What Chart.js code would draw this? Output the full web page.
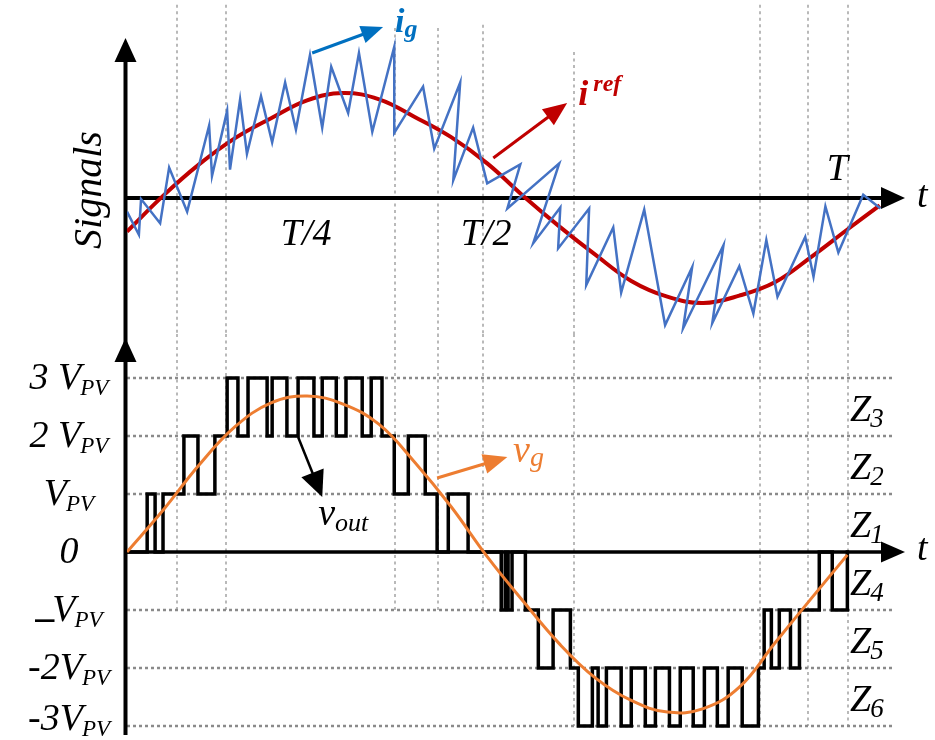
<!DOCTYPE html>
<html>
<head>
<meta charset="utf-8">
<script src="https://cdn.jsdelivr.net/npm/chart.js@4.4.1/dist/chart.umd.min.js"></script>
<style>
  html, body { margin: 0; padding: 0; background: #fff; }
  #wrap { position: relative; width: 935px; height: 740px; overflow: hidden; background: #fff; }
  #wrap canvas { position: absolute; left: 0; }
  #sig { top: 0; }
  #volt { top: 334px; }
</style>
</head>
<body>
<div id="wrap">
  <canvas id="sig" width="935" height="334"></canvas>
  <canvas id="volt" width="935" height="406"></canvas>
</div>
<script>
// Time is in ms; one grid period T = 20 ms.
const sampleT = [0, 1, 2, 3, 4, 5, 6, 7, 8, 9, 10, 11, 12, 13, 14, 15, 16, 17, 18, 19, 20];

// Reference current (per unit)
const iRefT = [0, 1, 2, 3, 4, 5, 6, 7, 8, 9, 10, 11, 12, 13, 14, 15, 16, 17, 18, 19, 20, 20.9];
const iRef  = [-0.32, 0.02, 0.32, 0.57, 0.76, 0.93, 1.00, 0.94, 0.77, 0.58, 0.33, 0.02,
               -0.27, -0.54, -0.79, -0.94, -1.00, -0.93, -0.80, -0.56, -0.30, -0.07];

// Grid current with switching ripple (vertex list, per unit)
const iGridT = [0, 0.33, 0.39, 0.92, 1.17, 1.67, 2.28, 2.36, 2.78, 2.86,
                3.14, 3.33, 3.72, 4.03, 4.39, 4.69, 5.08, 5.42, 5.67, 6.14,
                6.44, 6.81, 7.42, 7.42, 8.22, 8.53, 9.25, 9.06, 9.61, 10.00,
                10.92, 10.56, 12.00, 11.28, 12.03, 11.97, 12.83, 12.75, 13.50, 13.72,
                14.36, 14.94, 15.69, 15.44, 16.56, 16.25, 17.00, 17.39, 17.75, 18.06,
                18.83, 19.06, 19.39, 19.75, 20.44, 20.92];
const iGrid  = [-0.13, -0.35, -0.01, -0.24, 0.29, -0.13, 0.69, 0.21, 0.83, 0.27,
                0.94, 0.42, 0.97, 0.53, 1.10, 0.65, 1.36, 0.67, 1.25, 0.81,
                1.38, 0.63, 1.44, 0.62, 1.06, 0.47, 1.10, 0.17, 0.67, 0.14,
                0.32, -0.10, 0.33, -0.43, -0.09, -0.48, -0.10, -0.83, -0.28, -0.90,
                -0.11, -1.21, -0.66, -1.24, -0.45, -1.19, -0.65, -1.10, -0.40, -0.94,
                -0.37, -0.75, -0.08, -0.52, 0.03, -0.10];

// Grid voltage (multiples of V_PV)
const vGrid = [0, 0.72, 1.50, 2.16, 2.57, 2.69, 2.55, 2.20, 1.54, 0.78, -0.08,
               -0.85, -1.58, -2.17, -2.56, -2.76, -2.70, -2.33, -1.56, -0.80, -0.05];

// Inverter output level after each switching instant (multiples of V_PV)
const vOutT = [0, 0.56, 0.78, 1.00, 1.58, 1.97, 2.44, 2.78, 3.08, 3.36,
               3.89, 4.03, 4.44, 4.75, 5.19, 5.42, 5.81, 6.08, 6.53, 6.78,
               7.08, 7.42, 7.81, 8.28, 8.61, 8.92, 9.47, 10.39, 10.50, 10.58,
               10.69, 11.06, 11.42, 11.83, 12.31, 12.53, 12.92, 13.08, 13.31, 13.72,
               14.00, 14.39, 14.67, 15.06, 15.36, 15.72, 16.03, 16.39, 16.69, 17.08,
               17.53, 17.69, 17.89, 18.11, 18.42, 18.67, 19.22, 19.58, 20.00, 20.05];
const vOutLevel = [0, 1, 0, 1, 2, 1, 2, 3, 2, 3,
                   2, 3, 2, 3, 2, 3, 2, 3, 2, 3,
                   2, 1, 2, 1, 0, 1, 0, -1, 0, -1,
                   0, -1, -2, -1, -2, -3, -2, -3, -2, -3,
                   -2, -3, -2, -3, -2, -3, -2, -3, -2, -3,
                   -2, -1, -2, -1, -2, -1, 0, -1, 0, 0];

// Zone boundaries (ms) and the lowest voltage level each boundary line reaches
const zoneBoundT   = [1.39, 2.75, 7.44, 8.64, 9.89, 12.42, 17.58, 18.92, 20.03];
const zoneBoundLow = [-1, -1, -1, -1, -1, -3, -3, -3, -3];
const zoneBoundTop = [1.84, 1.84, 1.62, 1.62, 1.65, 1.39, 1.84, 1.84, 1.84];

// Voltage level labels
const levelVals = [3, 2, 1, 0, -1, -2, -3];
const levelMain = ['3 V', '2 V', 'V', '0', '\u2013V', '-2V', '-3V'];
const levelSub  = ['PV', 'PV', 'PV', '', 'PV', 'PV', 'PV'];

// Operating zones
const zoneMid = [2.5, 1.5, 0.5, -0.5, -1.5, -2.5];
const zoneSub = ['3', '2', '1', '4', '5', '6'];

// Period marks on the time axis
const periodT     = [5, 10, 20];
const periodLabel = ['T/4', 'T/2', 'T'];

const SERIF = '"Liberation Serif", "Times New Roman", serif';
const T_MAX = 21.6;

function pts(xs, ys) { return xs.map((t, i) => ({ x: t, y: ys[i] })); }

function arrowHead(ctx, x1, y1, x2, y2, len, half, color) {
  const a = Math.atan2(y2 - y1, x2 - x1);
  const bx = x2 - len * Math.cos(a), by = y2 - len * Math.sin(a);
  ctx.fillStyle = color;
  ctx.beginPath();
  ctx.moveTo(x2, y2);
  ctx.lineTo(bx + half * Math.sin(a), by - half * Math.cos(a));
  ctx.lineTo(bx - half * Math.sin(a), by + half * Math.cos(a));
  ctx.closePath();
  ctx.fill();
}

function arrow(ctx, x1, y1, x2, y2, o) {
  const a = Math.atan2(y2 - y1, x2 - x1);
  ctx.strokeStyle = o.color;
  ctx.lineWidth = o.width;
  ctx.lineCap = 'butt';
  ctx.beginPath();
  ctx.moveTo(x1, y1);
  ctx.lineTo(x2 - (o.len - 3) * Math.cos(a), y2 - (o.len - 3) * Math.sin(a));
  ctx.stroke();
  arrowHead(ctx, x1, y1, x2, y2, o.len, o.half, o.color);
}

// Italic text with a sub/superscript; a leading en dash is set low and heavy.
function richLabel(ctx, x, y, main, sub, o) {
  const w = o.bold ? 'bold ' : '';
  const f1 = `${w}italic ${o.size}px ${SERIF}`;
  const f2 = `${w}italic ${o.subSize}px ${SERIF}`;
  const fDash = `bold ${o.size}px ${SERIF}`;
  let dash = '';
  let body = main;
  if (main.charAt(0) === '\u2013') { dash = '\u2013'; body = main.slice(1); }
  ctx.font = fDash;
  const wd = dash ? ctx.measureText(dash).width - 2 : 0;
  ctx.font = f1;
  const w1 = ctx.measureText(body).width;
  ctx.font = f2;
  const w2 = sub ? ctx.measureText(sub).width : 0;
  const gap = sub ? (o.gap || 0) : 0;
  const total = wd + w1 + gap + w2;
  let left = x;
  if (o.align === 'center') left = x - total / 2;
  else if (o.align === 'right') left = x - total;
  ctx.fillStyle = o.color || '#000';
  ctx.textAlign = 'left';
  ctx.textBaseline = 'alphabetic';
  if (dash) {
    ctx.font = fDash;
    ctx.fillText(dash, left, y + 9);
  }
  ctx.font = f1;
  ctx.fillText(body, left + wd, y);
  if (sub) {
    ctx.font = f2;
    ctx.fillText(sub, left + wd + w1 + gap, y + (o.subDy || 0));
  }
}

function boundaryLines(ctx, x, yFrom, yTo) {
  ctx.save();
  ctx.strokeStyle = '#b9b9b9';
  ctx.lineWidth = 2;
  ctx.setLineDash([3, 3.5]);
  zoneBoundT.forEach((t, i) => {
    const px = Math.round(x.getPixelForValue(t));
    ctx.beginPath();
    ctx.moveTo(px, yFrom(i));
    ctx.lineTo(px, yTo(i));
    ctx.stroke();
  });
  ctx.restore();
}

// ---------- upper panel: currents ----------
const signalDecor = {
  id: 'signalDecor',
  beforeDatasetsDraw(chart) {
    const { ctx, chartArea: a, scales: { x, y } } = chart;
    boundaryLines(ctx, x, i => y.getPixelForValue(zoneBoundTop[i]), () => a.bottom);

    const x0 = x.getPixelForValue(0), y0 = y.getPixelForValue(0);
    const yTip = y.getPixelForValue(1.524), xTip = x.getPixelForValue(T_MAX);
    ctx.save();
    ctx.strokeStyle = '#000';
    ctx.lineWidth = 4;
    ctx.beginPath();
    ctx.moveTo(x0 - 1.5, a.bottom);
    ctx.lineTo(x0 - 1.5, yTip + 20);
    ctx.stroke();
    arrowHead(ctx, x0 - 1.5, a.bottom, x0 - 1.5, yTip, 24, 11, '#000');
    ctx.beginPath();
    ctx.moveTo(x0 - 3, y0);
    ctx.lineTo(xTip - 20, y0);
    ctx.stroke();
    arrowHead(ctx, x0, y0, xTip, y0, 24, 11, '#000');
    ctx.restore();
  },
  afterDatasetsDraw(chart) {
    const { ctx, scales: { x, y } } = chart;
    const y0 = y.getPixelForValue(0);
    ctx.save();

    // vertical axis title
    ctx.translate(101, 190);
    ctx.rotate(-Math.PI / 2);
    ctx.fillStyle = '#000';
    ctx.font = `italic 40px ${SERIF}`;
    ctx.textAlign = 'center';
    ctx.textBaseline = 'alphabetic';
    ctx.fillText('Signals', 0, 0);
    ctx.setTransform(1, 0, 0, 1, 0, 0);

    // period marks
    ctx.font = `italic 38px ${SERIF}`;
    ctx.textAlign = 'center';
    periodLabel.forEach((s, i) => {
      const above = s === 'T';
      const px = x.getPixelForValue(periodT[i]) + (above ? -10 : -1);
      ctx.fillText(s, px, above ? y0 - 18 : y0 + 47);
    });

    // time axis name
    ctx.textAlign = 'left';
    ctx.fillText('t', x.getPixelForValue(T_MAX) + 12, y0 + 9);

    // series callouts
    arrow(ctx, x.getPixelForValue(5.14), y.getPixelForValue(1.381),
          x.getPixelForValue(7.11), y.getPixelForValue(1.629),
          { color: '#0070C0', width: 3, len: 22, half: 9 });
    richLabel(ctx, x.getPixelForValue(7.44), y.getPixelForValue(1.58), 'i', 'g',
              { size: 34, subSize: 26, bold: true, subDy: 5, gap: 0, color: '#0070C0' });

    arrow(ctx, x.getPixelForValue(10.17), y.getPixelForValue(0.381),
          x.getPixelForValue(12.22), y.getPixelForValue(0.905),
          { color: '#C00000', width: 3, len: 24, half: 10 });
    richLabel(ctx, x.getPixelForValue(12.53), y.getPixelForValue(0.886), 'i', 'ref',
              { size: 36, subSize: 24, bold: true, subDy: -14, gap: 5, color: '#C00000' });
    ctx.restore();
  }
};

new Chart(document.getElementById('sig'), {
  type: 'line',
  data: {
    datasets: [
      {
        label: 'i_g',
        data: pts(iGridT, iGrid),
        borderColor: '#4472C4',
        borderWidth: 2.5,
        tension: 0,
        borderJoinStyle: 'miter',
        pointRadius: 0,
        fill: false
      },
      {
        label: 'i_ref',
        data: pts(iRefT, iRef),
        borderColor: '#C00000',
        borderWidth: 4,
        tension: 0.4,
        pointRadius: 0,
        fill: false
      }
    ]
  },
  options: {
    responsive: false,
    animation: false,
    devicePixelRatio: 1,
    layout: { padding: { left: 127, right: 30, top: 0, bottom: 0 } },
    scales: {
      x: { type: 'linear', min: 0, max: T_MAX, display: false },
      y: { type: 'linear', min: -1.2952, max: 1.8857, display: false }
    },
    plugins: { legend: { display: false }, tooltip: { enabled: false } }
  },
  plugins: [signalDecor]
});

// ---------- lower panel: voltages ----------
const voltDecor = {
  id: 'voltDecor',
  beforeDatasetsDraw(chart) {
    const { ctx, chartArea: a, scales: { x, y } } = chart;
    boundaryLines(ctx, x, () => 0, i => y.getPixelForValue(zoneBoundLow[i]));

    // dotted level lines
    ctx.save();
    ctx.strokeStyle = '#8a8a8a';
    ctx.lineWidth = 2.5;
    ctx.setLineDash([3, 3]);
    levelVals.forEach(v => {
      if (v === 0) return;
      const py = Math.round(y.getPixelForValue(v));
      ctx.beginPath();
      ctx.moveTo(x.getPixelForValue(0), py);
      ctx.lineTo(x.getPixelForValue(21.28), py);
      ctx.stroke();
    });
    ctx.restore();

    const x0 = x.getPixelForValue(0), y0 = y.getPixelForValue(0);
    const yTip = y.getPixelForValue(3.69), xTip = x.getPixelForValue(T_MAX);
    ctx.save();
    ctx.strokeStyle = '#000';
    ctx.lineWidth = 4;
    ctx.beginPath();
    ctx.moveTo(x0 - 1.5, 0);
    ctx.lineTo(x0 - 1.5, y.getPixelForValue(-3.155));
    ctx.stroke();
    arrowHead(ctx, x0 - 1.5, y0, x0 - 1.5, yTip, 24, 11, '#000');
    ctx.lineWidth = 3.5;
    ctx.beginPath();
    ctx.moveTo(x0 - 3, y0);
    ctx.lineTo(xTip - 20, y0);
    ctx.stroke();
    arrowHead(ctx, x0, y0, xTip, y0, 24, 10.5, '#000');
    ctx.restore();
  },
  afterDatasetsDraw(chart) {
    const { ctx, chartArea: a, scales: { x, y } } = chart;
    const y0 = y.getPixelForValue(0);
    const lastBaseline = chart.height - 10;
    ctx.save();

    // level labels
    levelVals.forEach((v, i) => {
      const base = Math.min(y.getPixelForValue(v) + 11, lastBaseline);
      richLabel(ctx, a.left - 58, base, levelMain[i], levelSub[i],
                { size: 38, subSize: 23, align: 'center', subDy: 6, gap: -1 });
    });

    // zone names
    zoneMid.forEach((v, i) => {
      richLabel(ctx, 850, y.getPixelForValue(v) + 14, 'Z', zoneSub[i],
                { size: 38, subSize: 27, subDy: 6, gap: -1 });
    });

    // time axis name
    ctx.fillStyle = '#000';
    ctx.font = `italic 38px ${SERIF}`;
    ctx.textAlign = 'left';
    ctx.textBaseline = 'alphabetic';
    ctx.fillText('t', x.getPixelForValue(T_MAX) + 12, y0 + 8);

    // series callouts
    arrow(ctx, x.getPixelForValue(4.75), y.getPixelForValue(1.983),
          x.getPixelForValue(5.42), y.getPixelForValue(0.948),
          { color: '#000', width: 2.5, len: 26, half: 12 });
    richLabel(ctx, x.getPixelForValue(5.31), y.getPixelForValue(0.466), 'v', 'out',
              { size: 38, subSize: 26, subDy: 6, gap: 0 });

    arrow(ctx, x.getPixelForValue(8.61), y.getPixelForValue(1.276),
          x.getPixelForValue(10.56), y.getPixelForValue(1.638),
          { color: '#ED7D31', width: 3, len: 24, half: 10 });
    richLabel(ctx, x.getPixelForValue(10.72), y.getPixelForValue(1.552), 'v', 'g',
              { size: 38, subSize: 28, subDy: 4, gap: 0, color: '#ED7D31' });
    ctx.restore();
  }
};

new Chart(document.getElementById('volt'), {
  type: 'line',
  data: {
    datasets: [
      {
        label: 'v_g',
        data: pts(sampleT, vGrid),
        borderColor: '#ED7D31',
        borderWidth: 3,
        tension: 0.4,
        pointRadius: 0,
        fill: false
      },
      {
        label: 'v_out',
        data: pts(vOutT, vOutLevel),
        borderColor: '#000',
        borderWidth: 3.5,
        stepped: 'before',
        borderJoinStyle: 'miter',
        pointRadius: 0,
        fill: false
      }
    ]
  },
  options: {
    responsive: false,
    animation: false,
    devicePixelRatio: 1,
    layout: { padding: { left: 127, right: 30, top: 0, bottom: 3 } },
    scales: {
      x: { type: 'linear', min: 0, max: T_MAX, display: false },
      y: { type: 'linear', min: -3.1897, max: 3.7586, display: false }
    },
    plugins: { legend: { display: false }, tooltip: { enabled: false } }
  },
  plugins: [voltDecor]
});
</script>
</body>
</html>
